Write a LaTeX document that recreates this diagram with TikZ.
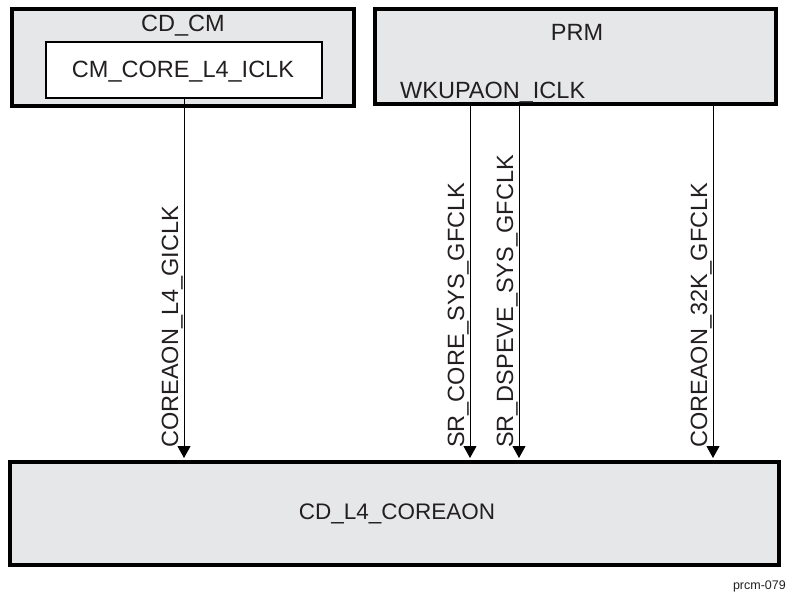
\documentclass[tikz,border=0pt]{standalone}
\usepackage{fontspec}
\setmainfont{Liberation Sans}
\usepackage{tikz}
\usetikzlibrary{positioning, calc}
\usetikzlibrary{arrows.meta}
\usepackage{xcolor}
\definecolor{domaingray}{HTML}{E6E7E8}
\definecolor{inkgray}{HTML}{231F20}

\begin{document}
\begin{tikzpicture}[
                x=1pt, y=-1pt,
                font=\fontsize{23.5}{28}\selectfont, text=inkgray,
                cdbox/.style={rectangle, draw, line width=4pt, fill=domaingray, inner sep=0pt},
                clkbox/.style={rectangle, draw, line width=2pt, fill=white, inner sep=0pt},
                title/.style={inner sep=0pt, anchor=base},
                sigtext/.style={rotate=90, anchor=base west, inner sep=0pt},
                line/.style={draw, line width=1pt, shorten >=2pt, -{Triangle[length=12pt, width=13pt]}}
            ]
                \useasboundingbox (0,0) rectangle (787,592);

                % Subgraph CM: clock manager
                \node[cdbox, minimum width=342pt, minimum height=97pt] (cdcm) at (183, 57.5) {};
                \node[title] (cdcmtxt) at (183, 31) {CD\_CM};
                \node[clkbox, minimum width=276pt, minimum height=56pt] (cmclk) at (184, 70) {};
                \node[title] (cmclktxt) at (183, 77) {CM\_CORE\_L4\_ICLK};

                % Subgraph PRM: power and reset manager
                \node[cdbox, minimum width=401pt, minimum height=95pt] (prm) at (575.5, 56.5) {};
                \node[title] (prmtxt) at (577, 40) {PRM};
                \node[title, anchor=base west] (wkup) at (400, 98) {WKUPAON\_ICLK};

                % Subgraph CORE: target domain
                \node[cdbox, minimum width=769pt, minimum height=103pt] (core) at (394.5, 513.5) {};
                \node[title, font=\fontsize{22.5}{27}\selectfont] (coretxt) at (397, 519) {CD\_L4\_COREAON};
                \node[title, anchor=base east, font=\fontsize{12.5}{15}\selectfont] (figid) at (786, 589) {prcm-079};

                % clock taps on PRM
                \coordinate (tapA) at (470, 0);
                \coordinate (tapB) at (519, 0);
                \coordinate (tapC) at (713, 0);

                \path[line] (cmclk.south) -- (cmclk.south |- core.north);
                \path[line] (prm.south -| tapA) -- (tapA |- core.north);
                \path[line] (prm.south -| tapB) -- (tapB |- core.north);
                \path[line] (prm.south -| tapC) -- (tapC |- core.north);

                \node[sigtext] (sigcm) at ($(cmclk.south |- core.north)+(-6,-12)$) {COREAON\_L4\_GICLK};
                \node[sigtext] (siga) at ($(tapA |- core.north)+(-6,-12)$) {SR\_CORE\_SYS\_GFCLK};
                \node[sigtext] (sigb) at ($(tapB |- core.north)+(-6,-12)$) {SR\_DSPEVE\_SYS\_GFCLK};
                \node[sigtext] (sigc) at ($(tapC |- core.north)+(-6,-12)$) {COREAON\_32K\_GFCLK};
            \end{tikzpicture}
\end{document}
